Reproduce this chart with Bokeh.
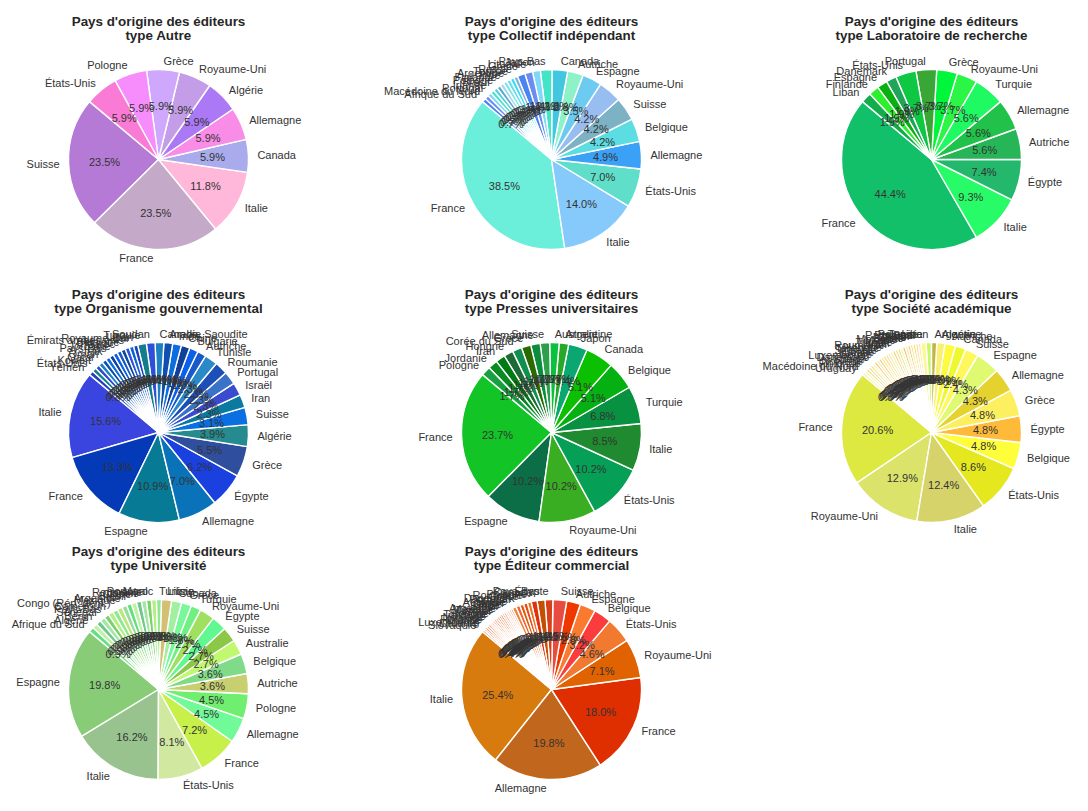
import math
from bokeh.plotting import figure
from bokeh.models import ColumnDataSource, Range1d
from bokeh.embed import file_html
from bokeh.resources import INLINE
from bokeh.core.properties import value

# ---------------- data ----------------
titre = "Pays d'origine des éditeurs"

autre_type = "Autre"
autre_pays = ["Suisse", "France", "Italie", "Canada", "Allemagne", "Algérie", "Royaume-Uni", "Grèce", "Pologne", "États-Unis"]
autre_n = [4, 4, 2, 1, 1, 1, 1, 1, 1, 1]

coll_type = "Collectif indépendant"
coll_pays = ["France", "Italie", "États-Unis", "Allemagne", "Belgique", "Suisse", "Royaume-Uni", "Espagne", "Autriche", "Canada",
             "Pays-Bas", "Japon", "Lituanie", "Grèce", "Russie", "Tunisie", "Argentine", "Inde", "Finlande", "Pologne",
             "Brésil", "Irlande", "Portugal", "Macédoine du Nord", "Afrique du Sud"]
coll_n = [55, 20, 10, 7, 6, 6, 6, 5, 4, 4, 3, 2, 2, 2, 1, 1, 1, 1, 1, 1, 1, 1, 1, 1, 1]

labo_type = "Laboratoire de recherche"
labo_pays = ["France", "Italie", "Égypte", "Autriche", "Allemagne", "Turquie", "Royaume-Uni", "Grèce", "Portugal", "États-Unis",
             "Danemark", "Espagne", "Finlande", "Liban"]
labo_n = [24, 5, 4, 3, 3, 3, 2, 2, 2, 2, 1, 1, 1, 1]

gouv_type = "Organisme gouvernemental"
gouv_pays = ["Italie", "France", "Espagne", "Allemagne", "Égypte", "Grèce", "Algérie", "Suisse", "Iran", "Israël", "Portugal",
             "Roumanie", "Tunisie", "Autriche", "Bulgarie", "Chine", "Inde", "Arabie Saoudite", "Canada", "Soudan", "Turquie",
             "Liban", "Royaume-Uni", "Émirats arabes unis", "Belgique", "Maroc", "Jordanie", "Pays-Bas", "Irak", "Oman",
             "Qatar", "Koweït", "États-Unis", "Yémen"]
gouv_n = [20, 17, 14, 9, 8, 7, 5, 4, 3, 3, 3, 3, 3, 2, 2, 2, 2, 2, 2, 2, 2, 1, 1, 1, 1, 1, 1, 1, 1, 1, 1, 1, 1, 1]

pres_type = "Presses universitaires"
pres_pays = ["France", "Espagne", "Royaume-Uni", "États-Unis", "Italie", "Turquie", "Belgique", "Canada", "Japon", "Argentine",
             "Australie", "Suisse", "Allemagne", "Grèce", "Corée du Sud", "Hongrie", "Iran", "Jordanie", "Pologne"]
pres_n = [14, 6, 6, 6, 5, 4, 3, 3, 2, 1, 1, 1, 1, 1, 1, 1, 1, 1, 1]

soc_type = "Société académique"
soc_pays = ["France", "Royaume-Uni", "Italie", "États-Unis", "Belgique", "Égypte", "Grèce", "Allemagne", "Espagne", "Suisse",
            "Canada", "Autriche", "Algérie", "Argentine", "Liban", "Tunisie",
            "Pologne", "Portugal", "Pays-Bas", "Japon", "Chine", "Inde", "Brésil", "Mexique", "Maroc", "Turquie", "Israël",
            "Iran", "Roumanie", "Hongrie", "Tchéquie", "Slovénie", "Croatie", "Serbie", "Luxembourg", "Danemark", "Suède",
            "Norvège", "Finlande", "Macédoine du Nord", "Uruguay"]
soc_n = [43, 27, 26, 18, 10, 10, 10, 9, 9, 5, 4, 4, 3, 2, 2, 2,
         1, 1, 1, 1, 1, 1, 1, 1, 1, 1, 1, 1, 1, 1, 1, 1, 1, 1, 1, 1, 1, 1, 1, 1, 1]

univ_type = "Université"
univ_pays = ["Espagne", "Italie", "États-Unis", "France", "Allemagne", "Pologne", "Autriche", "Belgique", "Australie", "Suisse",
             "Égypte", "Royaume-Uni", "Turquie", "Grèce", "Canada", "Liban",
             "Tunisie", "Maroc", "Portugal", "Roumanie", "Japon", "Chine", "Brésil", "Argentine", "Mexique",
             "Congo (Rép. dém.)", "Cameroun", "Pays-Bas", "Sénégal", "Bénin", "Algérie", "Afrique du Sud"]
univ_n = [22, 18, 9, 8, 5, 5, 4, 4, 3, 3, 3, 3, 2, 2, 2, 2,
          1, 1, 1, 1, 1, 1, 1, 1, 1, 1, 1, 1, 1, 1, 1, 1]

comm_type = "Éditeur commercial"
comm_pays = ["Italie", "Allemagne", "France", "Royaume-Uni", "États-Unis", "Belgique", "Espagne", "Autriche", "Suisse",
             "Égypte", "Pays-Bas", "Canada", "Pologne", "Roumanie", "Grèce", "Danemark", "Portugal",
             "Suède", "Australie", "Japon", "Chine", "Inde", "Brésil", "Argentine", "Mexique", "Turquie", "Israël",
             "Hongrie", "Tchéquie", "Irlande", "Norvège", "Finlande", "Croatie", "Luxembourg", "Lituanie", "Slovaquie"]
comm_n = [72, 56, 51, 20, 13, 9, 8, 7, 7, 4, 4, 3, 2, 2, 2, 2, 2,
          1, 1, 1, 1, 1, 1, 1, 1, 1, 1, 1, 1, 1, 1, 1, 1, 1, 1, 1]

# ---------------- colours (style) ----------------
autre_col = ["#b57ad6", "#c4a9c9", "#ffb7da", "#a9abec", "#f88ce6", "#ab78f6", "#c39de7", "#cfa7fc", "#f78cfd", "#fa7bd5"]
coll_main = ["#6cefda", "#86c9fb", "#5fdfc9", "#3aa1f7", "#5cdde2", "#7db1c4", "#98bdf0", "#6dcbf2", "#8ef2c8", "#43c6e0"]
coll_pal = ["#46e4c6", "#7fd7fa", "#6c8cf2", "#4a84f2", "#86aed6", "#35e0f5", "#66dcf0", "#7de8dc", "#a8d8f5", "#5fa8c8", "#50d0e8"]
labo_col = ["#12c069", "#27fb67", "#23b86b", "#26b658", "#20c24a", "#1ff962", "#2bf646", "#00f63a", "#38a735", "#0ec843",
            "#1fa458", "#0ab012", "#2cf02c", "#12ac4a"]
gouv_main = ["#3a45e0", "#0439b8", "#077a96", "#0a72b8", "#1b40e0", "#2f4f9e", "#258b8f", "#0a6fe0", "#0a7aa0", "#3a4bd0",
             "#3a72c8", "#1c4fb8", "#2a8ac8"]
gouv_pal = ["#1a5ac8", "#0a60e8", "#123f98", "#0b6ee0", "#0e4fb0", "#1d80c0", "#2c50d8", "#137d8a", "#2040c0", "#0a66d0",
            "#3050e0", "#10489a"]
pres_main = ["#13c427", "#0b6e47", "#3aae23", "#05a056", "#1f8a2f", "#089141", "#04b012", "#0ac000", "#0aa870"]
pres_pal = ["#28a828", "#0bc040", "#2f9e48", "#0a8e3e", "#2a6a00", "#109050", "#1e6a34", "#007a12", "#0a8a22", "#18a040"]
soc_main = ["#dde840", "#dbe36a", "#d7d36b", "#e5e81f", "#fefe3b", "#feba38", "#fdf060", "#e5d22f", "#dffa70", "#fef85e",
            "#eef82e", "#fefa40", "#f8f070", "#c6b24a", "#c8f870", "#fff890"]
soc_pal = ["#f5eea0", "#ffd4a0", "#f0e460", "#ffe488", "#f8c47a", "#e8f094", "#ffb868", "#f4f4b4", "#dcec70", "#fcd890",
           "#f0d070", "#ecf8a8"]
univ_main = ["#88cc78", "#98c38f", "#d0e8a0", "#c8f04a", "#70fa98", "#6fee70", "#c8cf70", "#80db88", "#c0f870", "#8cc848",
             "#60f890", "#a0e060", "#70f080", "#78f898", "#a0f0a0", "#d4c074"]
univ_pal = ["#90e890", "#b2f080", "#80d070", "#a2e8a2", "#70c890", "#c0f0a0", "#60e080", "#98dca0", "#b8e878"]
comm_main = ["#d87b0f", "#c1661d", "#df2e00", "#e06200", "#f27a30", "#fa3c3c", "#fa7a30", "#ee3800", "#e84c40", "#d8401b",
             "#c25000", "#e03010"]
comm_pal = ["#e87820", "#f04520", "#d06400", "#ff5a3a", "#e88a38", "#f86a50", "#ff9a70", "#f0a070", "#ffb8a0", "#e85a2a"]


def colours(main, pal, n):
    out = list(main[:n])
    i = 0
    while len(out) < n:
        out.append(pal[i % len(pal)])
        i += 1
    return out


charts = [
    (autre_type, autre_pays, autre_n, colours(autre_col, autre_col, len(autre_n))),
    (coll_type, coll_pays, coll_n, colours(coll_main, coll_pal, len(coll_n))),
    (labo_type, labo_pays, labo_n, colours(labo_col, labo_col, len(labo_n))),
    (gouv_type, gouv_pays, gouv_n, colours(gouv_main, gouv_pal, len(gouv_n))),
    (pres_type, pres_pays, pres_n, colours(pres_main, pres_pal, len(pres_n))),
    (soc_type, soc_pays, soc_n, colours(soc_main, soc_pal, len(soc_n))),
    (univ_type, univ_pays, univ_n, colours(univ_main, univ_pal, len(univ_n))),
    (comm_type, comm_pays, comm_n, colours(comm_main, comm_pal, len(comm_n))),
]

# ---------------- layout ----------------
W, H = 1072, 795
COLS = [158.0, 551.0, 931.0]       # pie centres (canvas px)
ROWS = [159.0, 432.0, 689.0]       # pie centres, from top (canvas px)
R = 90.0
START = math.radians(140)
FONT = value("Liberation Sans")

p = figure(width=W, height=H, x_range=Range1d(0, W), y_range=Range1d(0, H),
           output_backend="svg", toolbar_location=None,
           x_axis_type=None, y_axis_type=None, min_border=0)
p.outline_line_color = None
p.background_fill_color = "white"
p.border_fill_color = "white"

for k, (typ, pays, n, cols) in enumerate(charts):
    cx = COLS[k % 3]
    cy = H - ROWS[k // 3]
    total = float(sum(n))
    starts, ends, mids = [], [], []
    cum = 0.0
    for v in n:
        a0 = START + 2 * math.pi * cum / total
        a1 = START + 2 * math.pi * (cum + v) / total
        starts.append(a0)
        ends.append(a1)
        mids.append((a0 + a1) / 2)
        cum += v
    wsrc = ColumnDataSource(dict(x=[cx] * len(n), y=[cy] * len(n), s=starts, e=ends, c=cols))
    p.wedge(x="x", y="y", radius=R, start_angle="s", end_angle="e", fill_color="c",
            line_color="white", line_width=1.4, source=wsrc)

    pct = ["%.1f%%" % (100.0 * v / total) for v in n]
    psrc = ColumnDataSource(dict(x=[cx + 0.6 * R * math.cos(m) for m in mids],
                                 y=[cy + 0.6 * R * math.sin(m) for m in mids], t=pct))
    p.text(x="x", y="y", text="t", source=psrc, text_font=FONT, text_font_size="11px",
           text_color="#333333", text_align="center", text_baseline="middle")

    lsrc = ColumnDataSource(dict(x=[cx + 1.1 * R * math.cos(m) for m in mids],
                                 y=[cy + 1.1 * R * math.sin(m) for m in mids],
                                 t=pays,
                                 a=["left" if math.cos(m) > 0 else "right" for m in mids]))
    p.text(x="x", y="y", text="t", text_align="a", source=lsrc, text_font=FONT, text_font_size="11px",
           text_color="#333333", text_baseline="middle")

    p.text(x=[cx, cx], y=[cy + 138.5, cy + 124.0], text=[titre, "type " + typ],
           text_font=FONT, text_font_size="13.4px", text_font_style="bold",
           text_color="#262626", text_align="center", text_baseline="middle")

open("out.html", "w").write(file_html(p, INLINE))
